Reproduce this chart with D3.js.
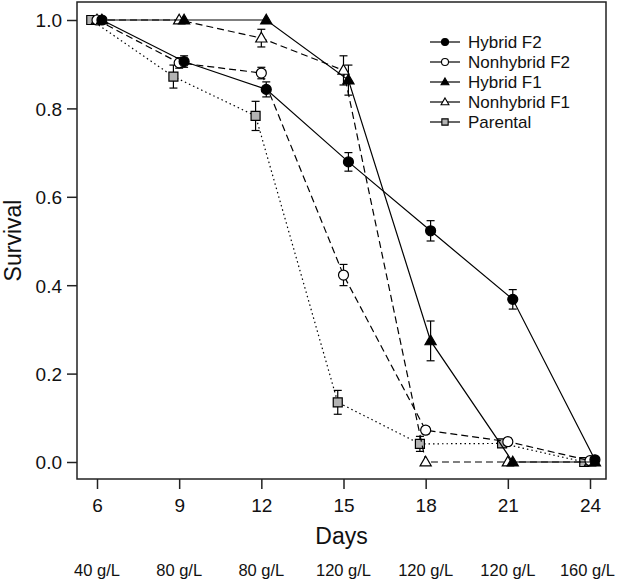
<!DOCTYPE html>
<html>
<head>
<meta charset="utf-8">
<script src="https://cdn.jsdelivr.net/npm/d3@7"></script>
<style>
  html, body { margin: 0; padding: 0; background: #fff; }
  svg { display: block; font-family: "Liberation Sans", Arial, sans-serif; }
</style>
</head>
<body>
<svg id="chart" width="617" height="581"></svg>
<script>
// ---- Data ----
const days = [6, 9, 12, 15, 18, 21, 24];
const concentrations = ["40 g/L", "80 g/L", "80 g/L", "120 g/L", "120 g/L", "120 g/L", "160 g/L"];
const yTicks = [0.0, 0.2, 0.4, 0.6, 0.8, 1.0];

const seriesNames = ["Hybrid F2", "Nonhybrid F2", "Hybrid F1", "Nonhybrid F1", "Parental"];

const hybridF2      = [1.000, 0.906, 0.843, 0.679, 0.523, 0.368, 0.005];
const hybridF2Err   = [0.000, 0.013, 0.017, 0.021, 0.023, 0.022, 0.004];
const nonhybridF2   = [1.000, 0.903, 0.880, 0.423, 0.072, 0.046, 0.003];
const nonhybridF2Err= [0.000, 0.012, 0.013, 0.024, 0.008, 0.008, 0.000];
const hybridF1      = [1.000, 1.000, 1.000, 0.864, 0.274, 0.000, 0.000];
const hybridF1Err   = [0.000, 0.000, 0.000, 0.034, 0.045, 0.000, 0.000];
const nonhybridF1   = [1.000, 1.000, 0.959, 0.886, 0.000, 0.000, 0.000];
const nonhybridF1Err= [0.000, 0.000, 0.020, 0.033, 0.000, 0.000, 0.000];
const parental      = [1.000, 0.872, 0.783, 0.135, 0.041, 0.042, 0.000];
const parentalErr   = [0.000, 0.026, 0.033, 0.027, 0.017, 0.008, 0.000];

// ---- Styles / layout (not data) ----
const dodge = { "Hybrid F2": 0.18, "Nonhybrid F2": 0, "Hybrid F1": 0.18, "Nonhybrid F1": 0, "Parental": -0.21 };
const styles = {
  "Hybrid F2":    { shape: "circle",   fill: "#000", dash: null,    size: 5 },
  "Nonhybrid F2": { shape: "circle",   fill: "#fff", dash: "7,4",   size: 5 },
  "Hybrid F1":    { shape: "triangle", fill: "#000", dash: null,    size: 5.6 },
  "Nonhybrid F1": { shape: "triangle", fill: "#fff", dash: "7,4",   size: 5.6 },
  "Parental":     { shape: "square",   fill: "#b3b3b3", dash: "1.5,3", size: 4.5 }
};

const values = {
  "Hybrid F2": [hybridF2, hybridF2Err],
  "Nonhybrid F2": [nonhybridF2, nonhybridF2Err],
  "Hybrid F1": [hybridF1, hybridF1Err],
  "Nonhybrid F1": [nonhybridF1, nonhybridF1Err],
  "Parental": [parental, parentalErr]
};

const box = { left: 77, right: 606, top: 2, bottom: 479 };
const svg = d3.select("#chart");

const x = d3.scaleLinear().domain([6, 24]).range([97, 590]);
const y = d3.scaleLinear().domain([0, 1]).range([462, 20]);

function markerPath(shape, s) {
  if (shape === "circle") return `M${-s},0A${s},${s} 0 1,0 ${s},0A${s},${s} 0 1,0 ${-s},0Z`;
  if (shape === "triangle") {
    const h = s * 1.732;
    return `M0,${-h * 0.6}L${s},${h * 0.4}L${-s},${h * 0.4}Z`;
  }
  return `M${-s},${-s}L${s},${-s}L${s},${s}L${-s},${s}Z`;
}

// ---- Plot box ----
svg.append("rect")
  .attr("x", box.left).attr("y", box.top)
  .attr("width", box.right - box.left).attr("height", box.bottom - box.top)
  .attr("fill", "none").attr("stroke", "#222").attr("stroke-width", 1.5);

// ---- Axes ----
const yAxis = svg.append("g")
  .attr("transform", `translate(${box.left},0)`)
  .call(d3.axisLeft(y).tickValues(yTicks).tickFormat(d3.format(".1f")).tickSize(10).tickPadding(5));
yAxis.select(".domain").remove();
yAxis.selectAll("line").attr("stroke", "#222").attr("stroke-width", 1.5);
yAxis.selectAll("text").attr("font-size", 19).attr("font-family", "Liberation Sans, Arial, sans-serif")
  .attr("fill", "#111").attr("dy", "0.36em");

const xAxis = svg.append("g")
  .attr("transform", `translate(0,${box.bottom})`)
  .call(d3.axisBottom(x).tickValues(days).tickFormat(d3.format("d")).tickSize(10).tickPadding(10));
xAxis.select(".domain").remove();
xAxis.selectAll("line").attr("stroke", "#222").attr("stroke-width", 1.5);
xAxis.selectAll("text").attr("font-size", 19).attr("font-family", "Liberation Sans, Arial, sans-serif")
  .attr("fill", "#111").attr("y", 33).attr("dy", 0);

// Concentration labels (kept inside the canvas)
svg.append("g").selectAll("text").data(days).join("text")
  .attr("x", d => x(d)).attr("y", 576)
  .attr("text-anchor", "middle").attr("font-size", 16.5).attr("fill", "#111")
  .text((d, i) => concentrations[i])
  .each(function () {
    const b = this.getBBox();
    const over = b.x + b.width - 615;
    if (over > 0) d3.select(this).attr("x", +d3.select(this).attr("x") - over);
  });

// Axis titles
svg.append("text").attr("x", (box.left + box.right) / 2).attr("y", 544)
  .attr("text-anchor", "middle").attr("font-size", 23).attr("fill", "#111").text("Days");
svg.append("text").attr("transform", `translate(21,${(box.top + box.bottom) / 2}) rotate(-90)`)
  .attr("text-anchor", "middle").attr("font-size", 23).attr("fill", "#111").text("Survival");

// ---- Series ----
const plotG = svg.append("g");
const drawOrder = ["Parental", "Nonhybrid F1", "Nonhybrid F2", "Hybrid F1", "Hybrid F2"];
drawOrder.forEach(name => {
  const [vals, errs] = values[name];
  const st = styles[name];
  const pts = days.map((d, i) => ({ xd: d + dodge[name], v: vals[i], e: errs[i] }));
  const line = d3.line().x(p => x(p.xd)).y(p => y(p.v));
  plotG.append("path").datum(pts).attr("d", line)
    .attr("fill", "none").attr("stroke", "#000").attr("stroke-width", 1.2)
    .attr("stroke-dasharray", st.dash);
  const eb = plotG.append("g").attr("stroke", "#000").attr("stroke-width", 1.2);
  pts.filter(p => p.e > 0.006).forEach(p => {
    const cx = x(p.xd);
    eb.append("line").attr("x1", cx).attr("x2", cx).attr("y1", y(p.v + p.e)).attr("y2", y(p.v - p.e));
    eb.append("line").attr("x1", cx - 4).attr("x2", cx + 4).attr("y1", y(p.v + p.e)).attr("y2", y(p.v + p.e));
    eb.append("line").attr("x1", cx - 4).attr("x2", cx + 4).attr("y1", y(p.v - p.e)).attr("y2", y(p.v - p.e));
  });
  plotG.append("g").selectAll("path").data(pts).join("path")
    .attr("transform", p => `translate(${x(p.xd)},${y(p.v)})`)
    .attr("d", markerPath(st.shape, st.size))
    .attr("fill", st.fill).attr("stroke", "#000").attr("stroke-width", 1.2);
});

// ---- Legend ----
const legend = svg.append("g");
seriesNames.forEach((name, i) => {
  const st = styles[name];
  const ly = 42 + i * 20;
  legend.append("line").attr("x1", 430).attr("x2", 460).attr("y1", ly).attr("y2", ly)
    .attr("stroke", "#000").attr("stroke-width", 1.2);
  legend.append("path").attr("transform", `translate(445,${ly})`)
    .attr("d", markerPath(st.shape, st.size * 0.7))
    .attr("fill", st.fill).attr("stroke", "#000").attr("stroke-width", 1.1);
  legend.append("text").attr("x", 468).attr("y", ly).attr("dy", "0.36em")
    .attr("font-size", 17).attr("fill", "#111").text(name);
});
</script>
</body>
</html>
